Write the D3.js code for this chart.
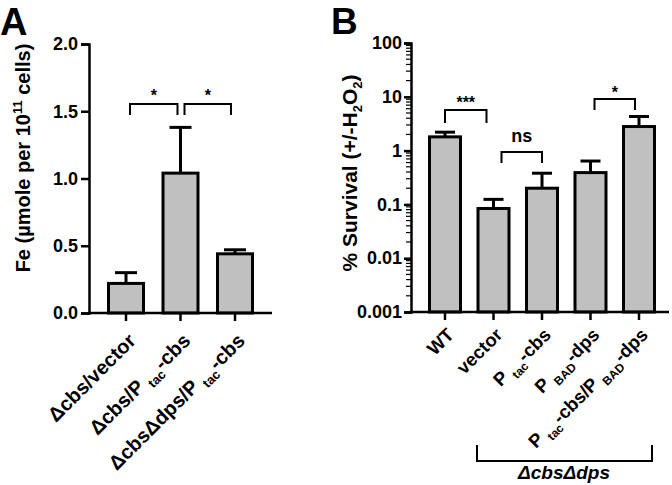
<!DOCTYPE html>
<html><head><meta charset="utf-8">
<script src="https://cdn.jsdelivr.net/npm/d3@7"></script>
<style>
body{margin:0;background:#fff;}
text{font-family:"Liberation Sans",Arial,sans-serif;font-weight:bold;fill:#000;}
</style></head>
<body><svg id="c" width="672" height="485"></svg>
<script>
// Panel A data
const catsA = ["a1","a2","a3"];
const valsA = [0.22, 1.04, 0.44];
const errA  = [0.30, 1.38, 0.47];
const ticksA = [0, 0.5, 1.0, 1.5, 2.0];
// Panel B data
const catsB = ["WT","vector","Ptac-cbs","PBAD-dps","Ptac-cbs/PBAD-dps"];
const valsB = [1.8, 0.084, 0.20, 0.39, 2.8];
const errB  = [2.2, 0.124, 0.38, 0.64, 4.3];
const ticksB = [0.001, 0.01, 0.1, 1, 10, 100];
const tickLabelsB = ["0.001","0.01","0.1","1","10","100"];

const svg = d3.select("#c");
const FILL = "#c0c0c0";

const labelsA = [
  [["Δcbs/vector","n"]],
  [["Δcbs/P ","n"],["tac","s"],["-cbs","n"]],
  [["ΔcbsΔdps/P ","n"],["tac","s"],["-cbs","n"]]
];
const labelsB = [
  [["WT","n"]],
  [["vector","n"]],
  [["P ","n"],["tac","s"],["-cbs","n"]],
  [["P ","n"],["BAD","s"],["-dps","n"]],
  [["P ","n"],["tac","s"],["-cbs/P ","n"],["BAD","s"],["-dps","n"]]
];

function richText(sel, parts, size, subSize){
  let shifted = false;
  parts.forEach(p=>{
    const t = sel.append("tspan").text(p[0]);
    if(p[1]==="s"){ t.attr("font-size",subSize).attr("dy", shifted?0:6); shifted=true; }
    else { t.attr("font-size",size); if(shifted){ t.attr("dy",-6); shifted=false; } }
  });
}
function bracket(g, x1, x2, yTop, yBot, label, ly, fs){
  g.append("path").attr("d",`M${x1},${yBot}V${yTop}H${x2}V${yBot}`)
    .attr("fill","none").attr("stroke","#000").attr("stroke-width",2);
  g.append("text").attr("x",(x1+x2)/2).attr("y",ly).attr("text-anchor","middle")
    .attr("font-size",fs).text(label);
}

// ---------- Panel A ----------
const xA = d3.scalePoint().domain(catsA).range([126, 235]);
const yA = d3.scaleLinear().domain([0,2]).range([313, 44]);
const bwA = 35;
const gA = svg.append("g");

gA.selectAll("rect.bar").data(catsA).join("rect")
  .attr("x", d=>xA(d)-bwA/2).attr("width", bwA)
  .attr("y", (d,i)=>yA(valsA[i])).attr("height",(d,i)=>yA(0)-yA(valsA[i]))
  .attr("fill",FILL).attr("stroke","#000").attr("stroke-width",3);
gA.selectAll("line.err").data(catsA).join("line")
  .attr("x1",d=>xA(d)).attr("x2",d=>xA(d))
  .attr("y1",(d,i)=>yA(valsA[i])).attr("y2",(d,i)=>yA(errA[i]))
  .attr("stroke","#000").attr("stroke-width",3);
gA.selectAll("line.cap").data(catsA).join("line")
  .attr("x1",d=>xA(d)-11).attr("x2",d=>xA(d)+11)
  .attr("y1",(d,i)=>yA(errA[i])).attr("y2",(d,i)=>yA(errA[i]))
  .attr("stroke","#000").attr("stroke-width",3);

const axA = gA.append("g").attr("transform","translate(89,0)")
  .call(d3.axisLeft(yA).tickValues(ticksA).tickFormat(d3.format(".1f")).tickSize(8).tickPadding(3));
axA.select(".domain").attr("stroke-width",2.5);
axA.selectAll(".tick line").attr("stroke-width",2.5);
axA.selectAll(".tick text").attr("font-size",18).style("font-family","Liberation Sans, Arial").style("font-weight","bold");

gA.append("line").attr("x1",88).attr("x2",272).attr("y1",313).attr("y2",313).attr("stroke","#000").attr("stroke-width",2.5);
gA.selectAll("line.xt").data(catsA).join("line")
  .attr("x1",d=>xA(d)).attr("x2",d=>xA(d)).attr("y1",313).attr("y2",321)
  .attr("stroke","#000").attr("stroke-width",2.5);
gA.selectAll("text.xl").data(catsA).join("text")
  .attr("text-anchor","end")
  .attr("transform",d=>`translate(${xA(d)+11},${342}) rotate(-45)`)
  .each(function(d,i){ richText(d3.select(this), labelsA[i], 20, 13); });

bracket(gA, xA("a1")+4, xA("a2")-3, 104, 115, "*", 101, 16);
bracket(gA, xA("a2")+4, xA("a3")-4, 104, 115, "*", 101, 16);

const ytA = gA.append("text").attr("text-anchor","middle")
  .attr("transform","translate(30,158) rotate(-90)").attr("font-size",20);
ytA.append("tspan").text("Fe (µmole per 10");
ytA.append("tspan").text("11").attr("font-size",13).attr("dy",-8);
ytA.append("tspan").text(" cells)").attr("dy",8);

svg.append("text").attr("x",0).attr("y",35).attr("font-size",38).text("A");

// ---------- Panel B ----------
const xB = d3.scalePoint().domain(catsB).range([445, 639]);
const yB = d3.scaleLog().domain([0.001,100]).range([312, 43]);
const bwB = 31;
const gB = svg.append("g");

gB.selectAll("rect.bar").data(catsB).join("rect")
  .attr("x", d=>xB(d)-bwB/2).attr("width", bwB)
  .attr("y", (d,i)=>yB(valsB[i])).attr("height",(d,i)=>yB(0.001)-yB(valsB[i]))
  .attr("fill",FILL).attr("stroke","#000").attr("stroke-width",3);
gB.selectAll("line.err").data(catsB).join("line")
  .attr("x1",d=>xB(d)).attr("x2",d=>xB(d))
  .attr("y1",(d,i)=>yB(valsB[i])).attr("y2",(d,i)=>yB(errB[i]))
  .attr("stroke","#000").attr("stroke-width",3);
gB.selectAll("line.cap").data(catsB).join("line")
  .attr("x1",d=>xB(d)-10).attr("x2",d=>xB(d)+10)
  .attr("y1",(d,i)=>yB(errB[i])).attr("y2",(d,i)=>yB(errB[i]))
  .attr("stroke","#000").attr("stroke-width",3);

const minor = [];
for(let e=-3;e<2;e++) for(let m=2;m<=9;m++) minor.push(m*Math.pow(10,e));
gB.selectAll("line.minor").data(minor).join("line")
  .attr("x1",406).attr("x2",411).attr("y1",d=>yB(d)).attr("y2",d=>yB(d))
  .attr("stroke","#000").attr("stroke-width",1.2);
const axB = gB.append("g").attr("transform","translate(411,0)")
  .call(d3.axisLeft(yB).tickValues(ticksB).tickFormat((d,i)=>tickLabelsB[i]).tickSize(7).tickPadding(2));
axB.select(".domain").attr("stroke-width",2.5);
axB.selectAll(".tick line").attr("stroke-width",2.5);
axB.selectAll(".tick text").attr("font-size",18).style("font-family","Liberation Sans, Arial").style("font-weight","bold");

gB.append("line").attr("x1",410).attr("x2",669).attr("y1",312).attr("y2",312).attr("stroke","#000").attr("stroke-width",2.5);
gB.selectAll("line.xt").data(catsB).join("line")
  .attr("x1",d=>xB(d)).attr("x2",d=>xB(d)).attr("y1",312).attr("y2",320)
  .attr("stroke","#000").attr("stroke-width",2.5);
gB.selectAll("text.xl").data(catsB).join("text")
  .attr("text-anchor","end")
  .attr("transform",d=>`translate(${xB(d)+10},${336}) rotate(-45)`)
  .each(function(d,i){ richText(d3.select(this), labelsB[i], 18.5, 12); });

bracket(gB, xB("WT"), xB("vector")-7, 110, 123, "***", 108, 16);
bracket(gB, xB("vector")+8, xB("Ptac-cbs"), 152, 163, "ns", 142, 18);
bracket(gB, xB("PBAD-dps")+4, xB("Ptac-cbs/PBAD-dps")-4, 99, 110, "*", 98, 16);

gB.append("path").attr("d","M477,445V461H652V445").attr("fill","none").attr("stroke","#000").attr("stroke-width",2);
gB.append("text").attr("x",564).attr("y",479).attr("text-anchor","middle").attr("font-size",19)
  .attr("font-style","italic").text("ΔcbsΔdps");

const ytB = gB.append("text").attr("text-anchor","middle")
  .attr("transform","translate(357,173) rotate(-90)").attr("font-size",21);
ytB.append("tspan").text("% Survival (+/-H");
ytB.append("tspan").text("2").attr("font-size",13).attr("dy",5);
ytB.append("tspan").text("O").attr("dy",-5);
ytB.append("tspan").text("2").attr("font-size",13).attr("dy",5);
ytB.append("tspan").text(")").attr("dy",-5);

svg.append("text").attr("x",331).attr("y",34).attr("font-size",37).text("B");
</script></body></html>
